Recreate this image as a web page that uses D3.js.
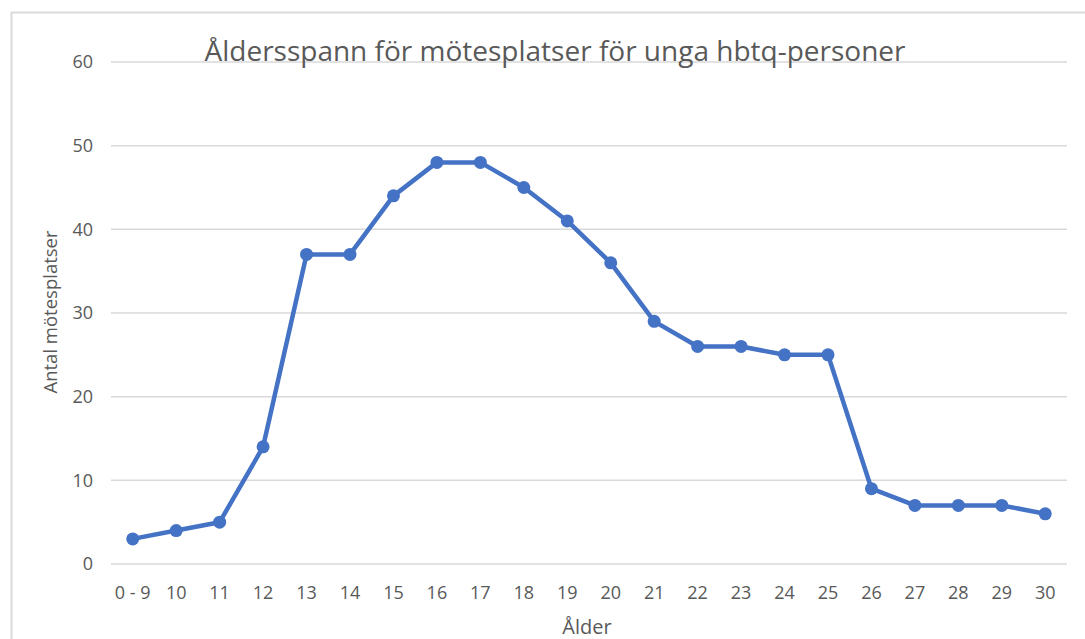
<!DOCTYPE html>
<html>
<head>
<meta charset="utf-8">
<script src="https://cdn.jsdelivr.net/npm/d3@7"></script>
<style>
  body { margin: 0; background: #fff; }
  text { font-family: "Open Sans", "Noto Sans", sans-serif; fill: #595959; }
</style>
</head>
<body>
<svg id="chart" width="1085" height="639"></svg>
<script>
const categories = ["0 - 9", "10", "11", "12", "13", "14", "15", "16", "17", "18", "19",
                    "20", "21", "22", "23", "24", "25", "26", "27", "28", "29", "30"];
const values = [3, 4, 5, 14, 37, 37, 44, 48, 48, 45, 41, 36, 29, 26, 26, 25, 25, 9, 7, 7, 7, 6];
const yTicks = [0, 10, 20, 30, 40, 50, 60];

const svg = d3.select("#chart");
const plotLeft = 111, plotRight = 1067, plotTop = 62, plotBottom = 564;

// chart area border (runs off the right and bottom edges)
svg.append("rect")
    .attr("x", 11.5).attr("y", 12.5)
    .attr("width", 1100).attr("height", 700)
    .attr("fill", "none")
    .attr("stroke", "#d9d9d9")
    .attr("stroke-width", 2);

const x = d3.scaleBand().domain(categories).range([plotLeft, plotRight]);
const y = d3.scaleLinear().domain([0, 60]).range([plotBottom, plotTop]);

// gridlines
svg.append("g").selectAll("line")
    .data(yTicks)
    .join("line")
    .attr("x1", plotLeft).attr("x2", plotRight)
    .attr("y1", d => y(d)).attr("y2", d => y(d))
    .attr("stroke", "#d9d9d9")
    .attr("stroke-width", 1.5);

// y tick labels
svg.append("g").selectAll("text")
    .data(yTicks)
    .join("text")
    .attr("x", 93)
    .attr("y", d => y(d))
    .attr("dy", "0.35em")
    .attr("text-anchor", "end")
    .attr("font-size", 18)
    .text(d => d);

// x tick labels
svg.append("g").selectAll("text")
    .data(categories)
    .join("text")
    .attr("x", d => x(d) + x.bandwidth() / 2)
    .attr("y", 599)
    .attr("text-anchor", "middle")
    .attr("font-size", 18)
    .text(d => d);

// line
const line = d3.line()
    .x((d, i) => x(categories[i]) + x.bandwidth() / 2)
    .y(d => y(d));

svg.append("path")
    .datum(values)
    .attr("d", line)
    .attr("fill", "none")
    .attr("stroke", "#4472c4")
    .attr("stroke-width", 4.5)
    .attr("stroke-linejoin", "round");

svg.append("g").selectAll("circle")
    .data(values)
    .join("circle")
    .attr("cx", (d, i) => x(categories[i]) + x.bandwidth() / 2)
    .attr("cy", d => y(d))
    .attr("r", 6.5)
    .attr("fill", "#4472c4");

// title
svg.append("text")
    .attr("x", 555)
    .attr("y", 61)
    .attr("text-anchor", "middle")
    .attr("font-size", 28)
    .text("Åldersspann för mötesplatser för unga hbtq-personer");

// axis titles
svg.append("text")
    .attr("transform", "translate(57,312) rotate(-90)")
    .attr("text-anchor", "middle")
    .attr("font-size", 18.5)
    .text("Antal mötesplatser");

svg.append("text")
    .attr("x", 587)
    .attr("y", 634)
    .attr("text-anchor", "middle")
    .attr("font-size", 20)
    .text("Ålder");
</script>
</body>
</html>
